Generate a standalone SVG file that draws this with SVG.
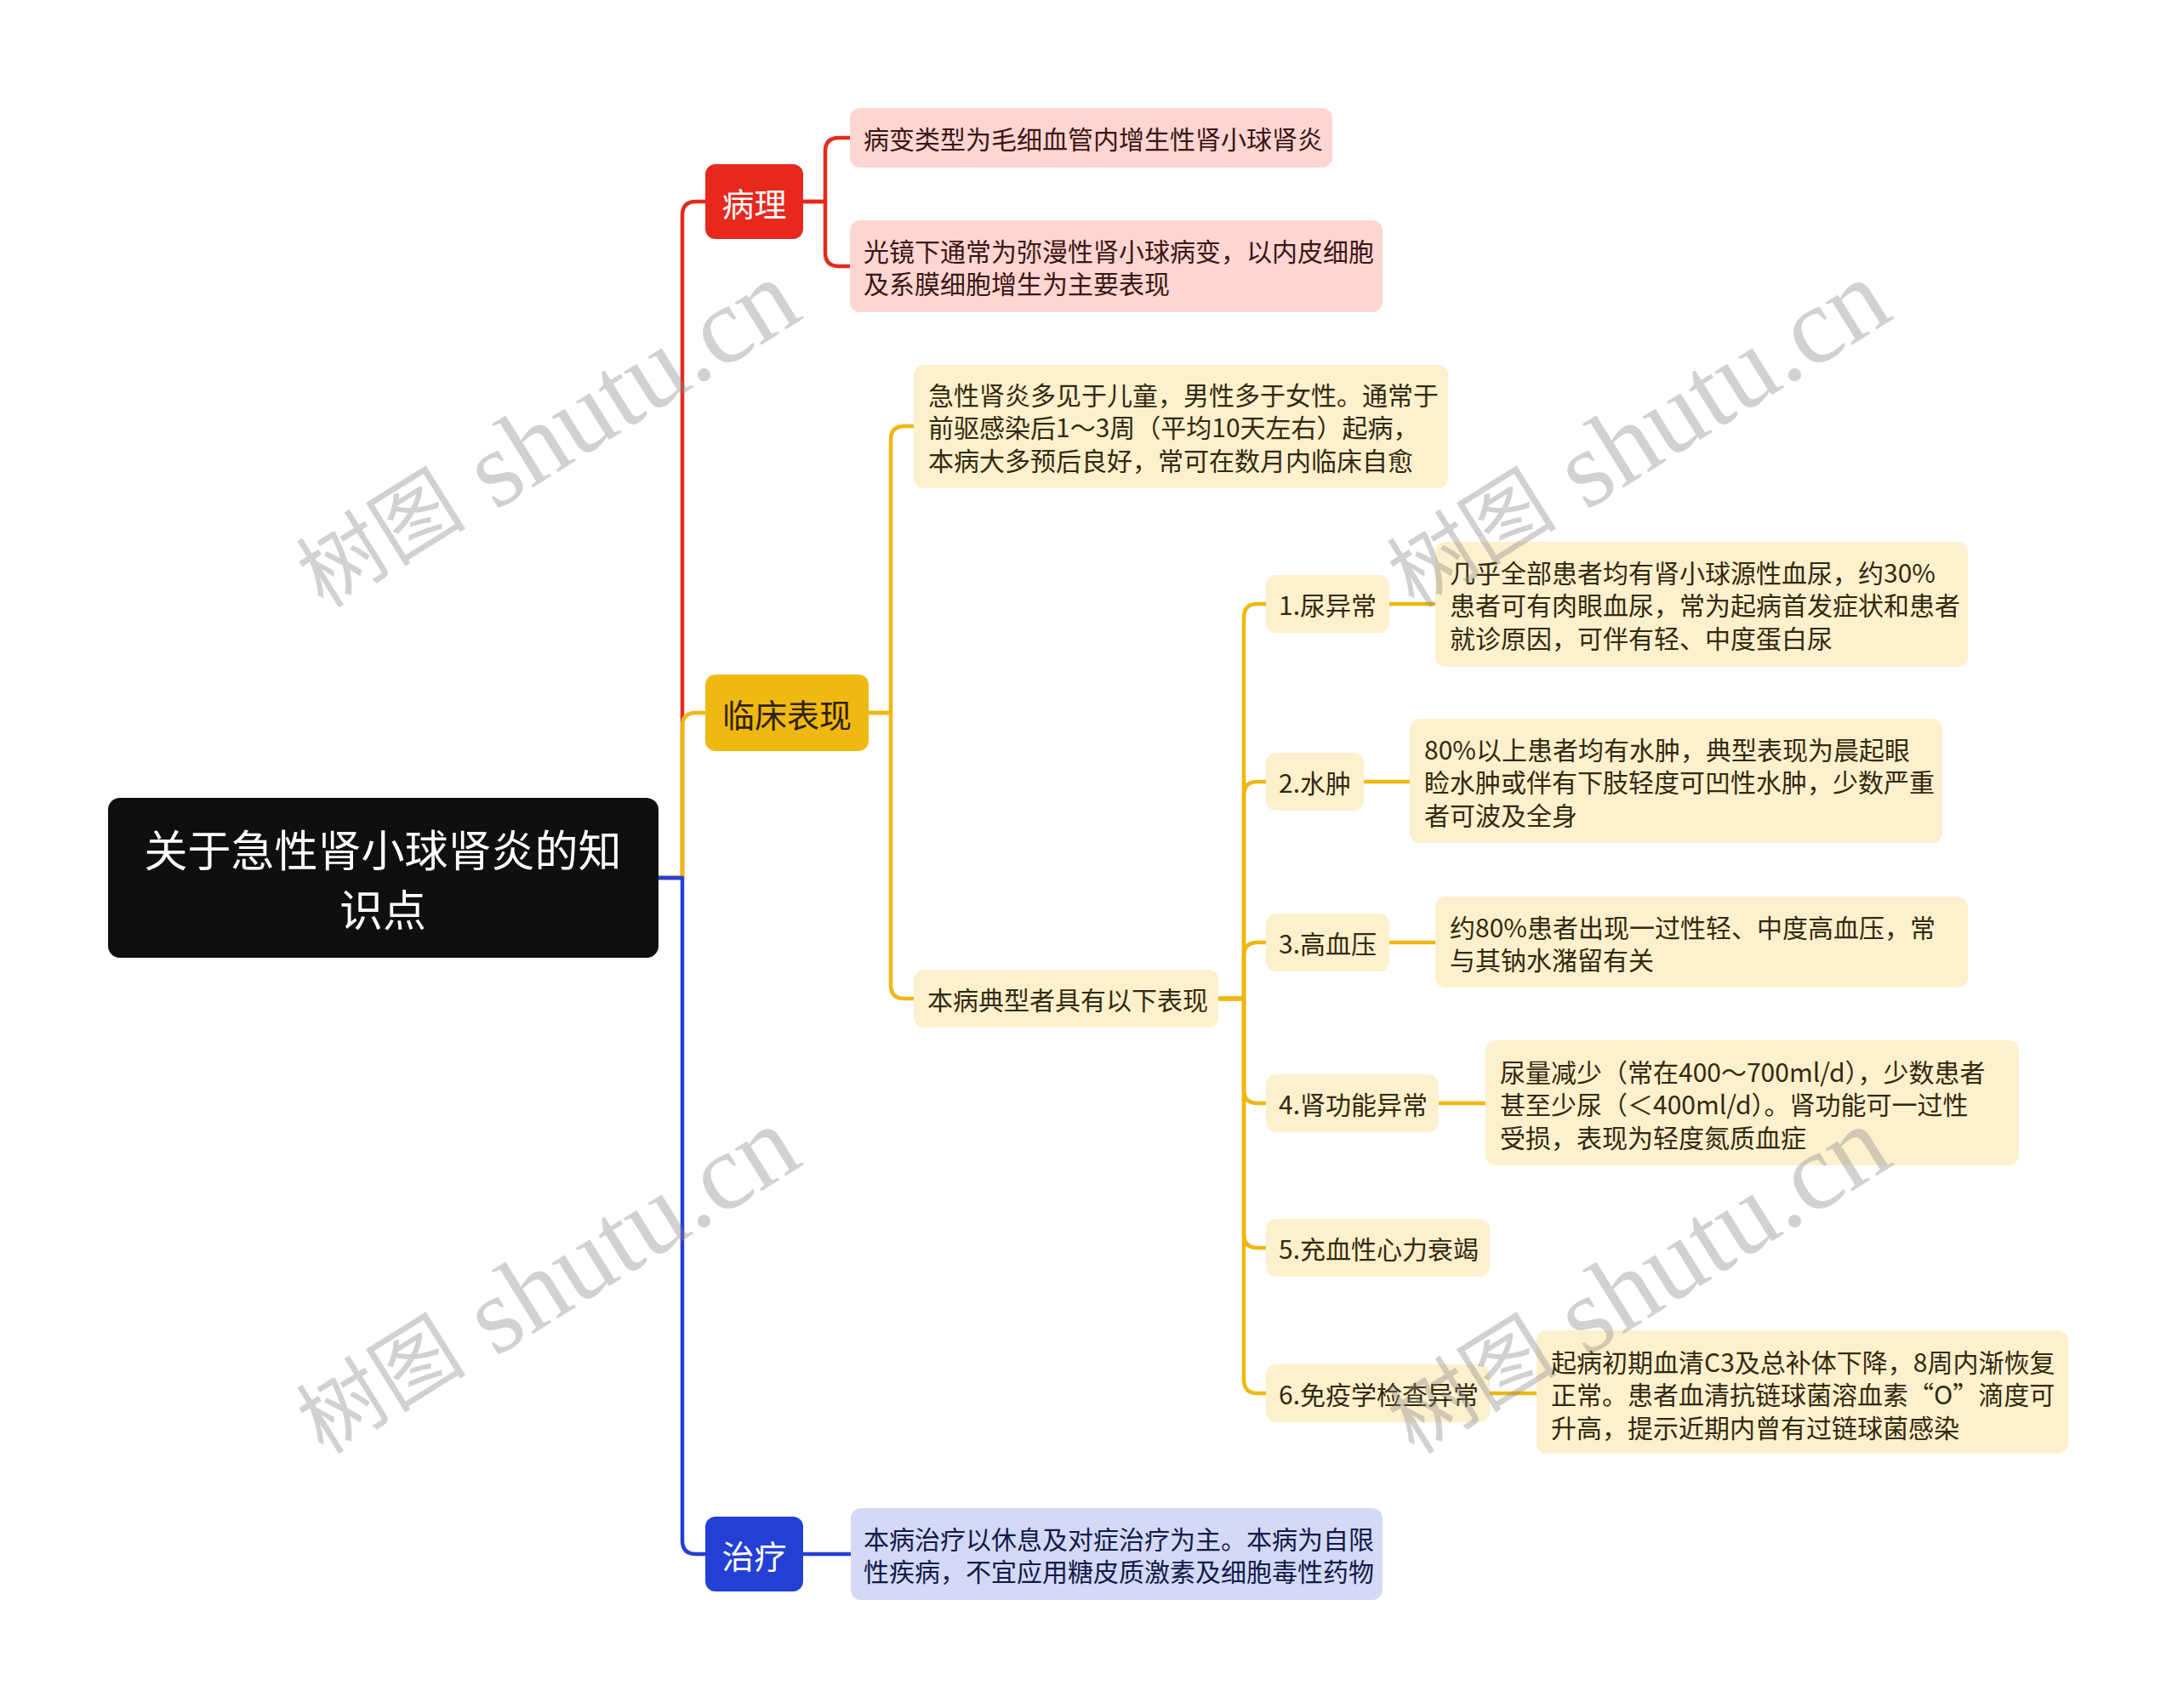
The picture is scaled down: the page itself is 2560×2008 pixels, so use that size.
<svg xmlns="http://www.w3.org/2000/svg" width="2560" height="2008" viewBox="0 0 2560 2008">
<style>
text{font-family:"Noto Sans CJK SC","Noto Sans",sans-serif;dominant-baseline:central}
.c{fill:none;stroke-width:4.5;stroke-linecap:round;stroke-linejoin:round}
.cr{stroke:#e52a1d}.cy{stroke:#efb80f}.cb{stroke:#2440d4}
.root{fill:#0f0f0f}
.rt{fill:#ffffff;font-size:51px}
.b1{fill:#e8281c}.b2{fill:#f0b911}.b3{fill:#2440d4}
.bt{font-size:38px}
.pk{fill:#fdd5d2}.cm{fill:#fdf0cd}.lb{fill:#d4d9f6}
.t{font-size:30px}
.tp{fill:#3b1512}.ty{fill:#33290d}.tb{fill:#121a4a}
.wm{fill:#888888;opacity:0.38;font-family:"Liberation Serif","Noto Sans CJK SC",serif}
</style>
<g id="connectors">
<path class="c cr" d="M774,1032 H802 V253 Q802,237 818,237 H829"/>
<path class="c cr" d="M944,237 H970 V178 Q970,162 986,162 H999"/>
<path class="c cr" d="M944,237 H970 V297 Q970,313 986,313 H999"/>
<path class="c cy" d="M774,1032 H802 V854 Q802,838 818,838 H829"/>
<path class="c cy" d="M1021,838 H1047 V517 Q1047,501 1063,501 H1074"/>
<path class="c cy" d="M1021,838 H1047 V1158 Q1047,1174 1063,1174 H1074"/>
<path class="c cy" d="M1432,1174 H1462 V726 Q1462,710 1478,710 H1488"/>
<path class="c cy" d="M1432,1174 H1462 V935 Q1462,919 1478,919 H1488"/>
<path class="c cy" d="M1432,1174 H1462 V1124 Q1462,1108 1478,1108 H1488"/>
<path class="c cy" d="M1432,1174 H1462 V1281 Q1462,1297 1478,1297 H1488"/>
<path class="c cy" d="M1432,1174 H1462 V1451 Q1462,1467 1478,1467 H1488"/>
<path class="c cy" d="M1432,1174 H1462 V1622 Q1462,1638 1478,1638 H1488"/>
<path class="c cy" d="M1633,710 H1687"/>
<path class="c cy" d="M1603,919 H1657"/>
<path class="c cy" d="M1633,1108 H1687"/>
<path class="c cy" d="M1691,1297 H1746"/>
<path class="c cy" d="M1751,1638 H1806"/>
<path class="c cb" d="M774,1032 H802 V1811 Q802,1827 818,1827 H829"/>
<path class="c cb" d="M944,1827 H1000"/>
</g>
<g id="root">
<rect class="root" x="127" y="938" width="647" height="188" rx="14"/>
<text class="rt" x="450" y="997" text-anchor="middle">关于急性肾小球肾炎的知</text>
<text class="rt" x="450" y="1067" text-anchor="middle">识点</text>
</g>
<g id="n-bingli">
<rect class="b1" x="829" y="193" width="115" height="88" rx="12"/>
<text class="bt" x="886.5" y="237" text-anchor="middle" fill="#ffffff">病理</text>
</g>
<g id="n-bingli-1">
<rect class="pk" x="999" y="127" width="567" height="70" rx="12"/>
<text class="t tp" x="1015" y="162">病变类型为毛细血管内增生性肾小球肾炎</text>
</g>
<g id="n-bingli-2">
<rect class="pk" x="999" y="259" width="626" height="108" rx="12"/>
<text class="t tp" x="1015" y="294">光镜下通常为弥漫性肾小球病变，以内皮细胞</text>
<text class="t tp" x="1015" y="332">及系膜细胞增生为主要表现</text>
</g>
<g id="n-linchuang">
<rect class="b2" x="829" y="793" width="192" height="90" rx="12"/>
<text class="bt" x="925" y="838" text-anchor="middle" fill="#2e2308">临床表现</text>
</g>
<g id="n-lc-1">
<rect class="cm" x="1074" y="429" width="628" height="145" rx="12"/>
<text class="t ty" x="1091" y="463">急性肾炎多见于儿童，男性多于女性。通常于</text>
<text class="t ty" x="1091" y="501">前驱感染后1～3周（平均10天左右）起病，</text>
<text class="t ty" x="1091" y="540">本病大多预后良好，常可在数月内临床自愈</text>
</g>
<g id="n-lc-2">
<rect class="cm" x="1074" y="1140" width="358" height="68" rx="12"/>
<text class="t ty" x="1090" y="1174">本病典型者具有以下表现</text>
</g>
<g id="n-s1">
<rect class="cm" x="1488" y="676" width="145" height="68" rx="12"/>
<text class="t ty" x="1503" y="710">1.尿异常</text>
</g>
<g id="n-s1-d">
<rect class="cm" x="1687" y="637" width="626" height="147" rx="12"/>
<text class="t ty" x="1704" y="672">几乎全部患者均有肾小球源性血尿，约30%</text>
<text class="t ty" x="1704" y="710">患者可有肉眼血尿，常为起病首发症状和患者</text>
<text class="t ty" x="1704" y="749">就诊原因，可伴有轻、中度蛋白尿</text>
</g>
<g id="n-s2">
<rect class="cm" x="1488" y="885" width="115" height="68" rx="12"/>
<text class="t ty" x="1503" y="919">2.水肿</text>
</g>
<g id="n-s2-d">
<rect class="cm" x="1657" y="845" width="626" height="146" rx="12"/>
<text class="t ty" x="1674" y="880">80%以上患者均有水肿，典型表现为晨起眼</text>
<text class="t ty" x="1674" y="918">睑水肿或伴有下肢轻度可凹性水肿，少数严重</text>
<text class="t ty" x="1674" y="957">者可波及全身</text>
</g>
<g id="n-s3">
<rect class="cm" x="1488" y="1074" width="145" height="68" rx="12"/>
<text class="t ty" x="1503" y="1108">3.高血压</text>
</g>
<g id="n-s3-d">
<rect class="cm" x="1687" y="1054" width="626" height="107" rx="12"/>
<text class="t ty" x="1704" y="1089">约80%患者出现一过性轻、中度高血压，常</text>
<text class="t ty" x="1704" y="1127">与其钠水潴留有关</text>
</g>
<g id="n-s4">
<rect class="cm" x="1488" y="1263" width="203" height="68" rx="12"/>
<text class="t ty" x="1503" y="1297">4.肾功能异常</text>
</g>
<g id="n-s4-d">
<rect class="cm" x="1746" y="1223" width="627" height="147" rx="12"/>
<text class="t ty" x="1763" y="1259">尿量减少（常在400～700ml/d），少数患者</text>
<text class="t ty" x="1763" y="1297">甚至少尿（＜400ml/d）。肾功能可一过性</text>
<text class="t ty" x="1763" y="1336">受损，表现为轻度氮质血症</text>
</g>
<g id="n-s5">
<rect class="cm" x="1488" y="1433" width="263" height="68" rx="12"/>
<text class="t ty" x="1503" y="1467">5.充血性心力衰竭</text>
</g>
<g id="n-s6">
<rect class="cm" x="1488" y="1604" width="263" height="68" rx="12"/>
<text class="t ty" x="1503" y="1638">6.免疫学检查异常</text>
</g>
<g id="n-s6-d">
<rect class="cm" x="1806" y="1564" width="625" height="145" rx="12"/>
<text class="t ty" x="1823" y="1600">起病初期血清C3及总补体下降，8周内渐恢复</text>
<text class="t ty" x="1823" y="1638">正常。患者血清抗链球菌溶血素“O”滴度可</text>
<text class="t ty" x="1823" y="1677">升高，提示近期内曾有过链球菌感染</text>
</g>
<g id="n-zhiliao">
<rect class="b3" x="829" y="1783" width="115" height="88" rx="12"/>
<text class="bt" x="886.5" y="1827" text-anchor="middle" fill="#ffffff">治疗</text>
</g>
<g id="n-zl-1">
<rect class="lb" x="1000" y="1773" width="625" height="108" rx="12"/>
<text class="t tb" x="1015" y="1808">本病治疗以休息及对症治疗为主。本病为自限</text>
<text class="t tb" x="1015" y="1846">性疾病，不宜应用糖皮质激素及细胞毒性药物</text>
</g>
<g id="watermarks">
<text class="wm" transform="translate(643,512) rotate(-32)" text-anchor="middle"><tspan font-size="100">树图</tspan><tspan font-size="128"> shutu.cn</tspan></text>
<text class="wm" transform="translate(1925,512) rotate(-32)" text-anchor="middle"><tspan font-size="100">树图</tspan><tspan font-size="128"> shutu.cn</tspan></text>
<text class="wm" transform="translate(643,1507) rotate(-32)" text-anchor="middle"><tspan font-size="100">树图</tspan><tspan font-size="128"> shutu.cn</tspan></text>
<text class="wm" transform="translate(1925,1507) rotate(-32)" text-anchor="middle"><tspan font-size="100">树图</tspan><tspan font-size="128"> shutu.cn</tspan></text>
</g>
</svg>
